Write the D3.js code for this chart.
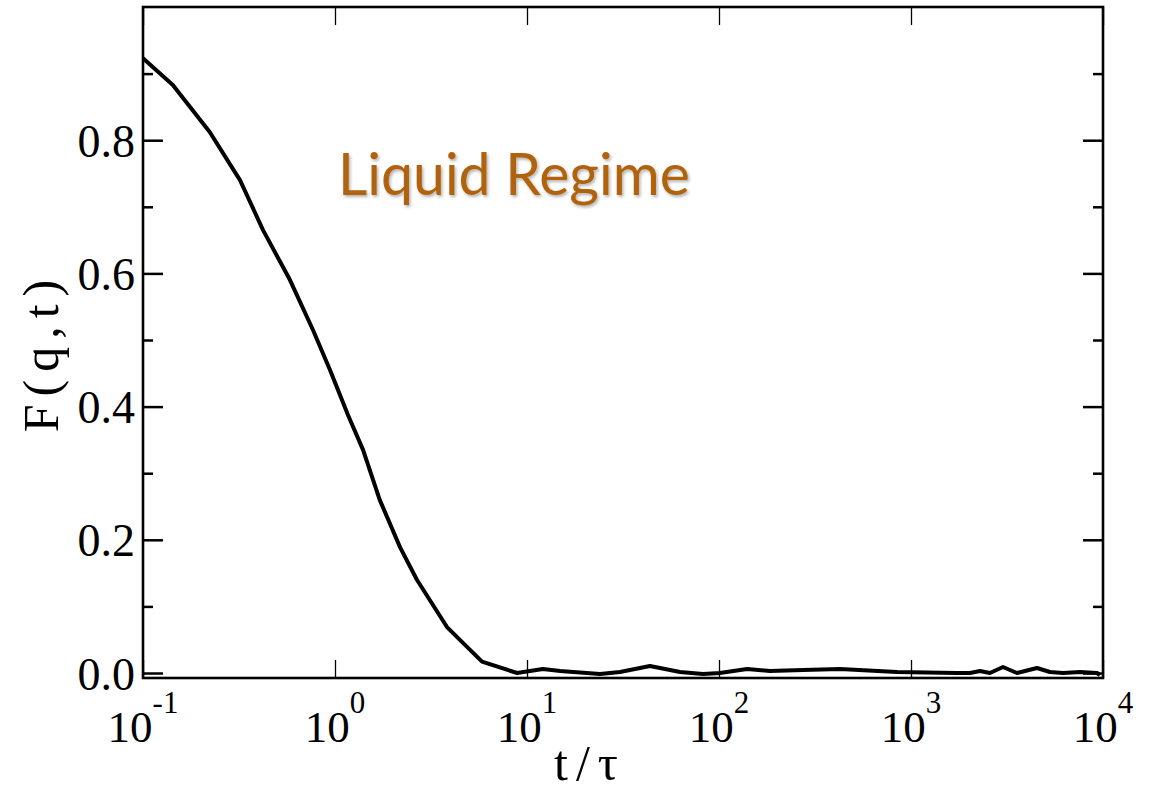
<!DOCTYPE html>
<html>
<head>
<meta charset="utf-8">
<script src="https://cdn.jsdelivr.net/npm/d3@7"></script>
<style>
  html, body { margin: 0; padding: 0; background: #fff; }
  svg { display: block; }
</style>
</head>
<body>
<svg id="chart" width="1155" height="793"></svg>
<script>
// Intermediate scattering function F(q,t) versus reduced time t/tau
const timeValues = [0.1, 0.143, 0.223, 0.320, 0.422, 0.583, 0.768, 0.942, 1.17, 1.40, 1.71, 2.18, 2.67, 3.83, 5.83, 8.88,
  12.1, 14.9, 24.0, 30.5, 43.7, 62.7, 82.6, 101, 140, 184, 274, 427, 845, 1738, 2028, 2286, 2577, 3013, 3564, 4529, 5296, 6194, 7592, 9311, 9640];
const fValues = [0.923, 0.883, 0.812, 0.740, 0.665, 0.590, 0.515, 0.455, 0.387, 0.335, 0.260, 0.189, 0.140, 0.069, 0.017, 0.000,
  0.006, 0.003, -0.0015, 0.0015, 0.0105, 0.0015, -0.0015, 0.000, 0.006, 0.003, 0.0045, 0.006, 0.0015, 0.000, 0.000, 0.003, 0.000, 0.009, 0.000, 0.0075, 0.0015, 0.000, 0.0015, 0.000, -0.003];

const xTickExponents = [-1, 0, 1, 2, 3, 4];
const yMajorTicks = [0.0, 0.2, 0.4, 0.6, 0.8];
const yMinorTicks = [0.1, 0.3, 0.5, 0.7, 0.9];
const yTickLabels = ["0.0", "0.2", "0.4", "0.6", "0.8"];
const xTitle = "t/\u03c4";
const yTitle = "F(q,t)";
const annotation = "Liquid Regime";

const svg = d3.select("#chart");
const plotL = 143, plotR = 1103, plotT = 7, plotB = 678;

const x = d3.scaleLog().domain([0.1, 1e4]).range([plotL, plotR]);
const y = d3.scaleLinear().domain([-0.0075, 1.0]).range([plotB, plotT]);

const serif = "'Liberation Serif', 'Times New Roman', serif";

// Tick marks on all four sides, pointing inward
const xTickVals = xTickExponents.map(e => Math.pow(10, e));
function tickStyle(g, w) {
  g.select(".domain").remove();
  g.selectAll(".tick line").attr("stroke", "#000").attr("stroke-width", w);
  g.selectAll(".tick text").remove();
}
svg.append("g").attr("transform", `translate(0,${plotB})`)
  .call(d3.axisBottom(x).tickValues(xTickVals).tickSize(-18).tickFormat(""))
  .call(g => tickStyle(g, 1.3));
svg.append("g").attr("transform", `translate(0,${plotT})`)
  .call(d3.axisTop(x).tickValues(xTickVals).tickSize(-18).tickFormat(""))
  .call(g => tickStyle(g, 1.3));
svg.append("g").attr("transform", `translate(${plotL},0)`)
  .call(d3.axisLeft(y).tickValues(yMajorTicks).tickSize(-20).tickFormat(""))
  .call(g => tickStyle(g, 2.5));
svg.append("g").attr("transform", `translate(${plotL},0)`)
  .call(d3.axisLeft(y).tickValues(yMinorTicks).tickSize(-10).tickFormat(""))
  .call(g => tickStyle(g, 2.5));
svg.append("g").attr("transform", `translate(${plotR},0)`)
  .call(d3.axisRight(y).tickValues(yMajorTicks).tickSize(-20).tickFormat(""))
  .call(g => tickStyle(g, 2.5));
svg.append("g").attr("transform", `translate(${plotR},0)`)
  .call(d3.axisRight(y).tickValues(yMinorTicks).tickSize(-10).tickFormat(""))
  .call(g => tickStyle(g, 2.5));

// Frame
svg.append("rect")
  .attr("x", plotL).attr("y", plotT)
  .attr("width", plotR - plotL).attr("height", plotB - plotT)
  .attr("fill", "none").attr("stroke", "#000").attr("stroke-width", 2.6);

// Y tick labels
svg.append("g").selectAll("text")
  .data(yMajorTicks)
  .join("text")
  .attr("x", 135)
  .attr("y", d => y(d))
  .attr("dy", "0.36em")
  .attr("text-anchor", "end")
  .attr("font-family", serif)
  .attr("font-size", 46)
  .attr("fill", "#000")
  .text((d, i) => yTickLabels[i]);

// X tick labels as powers of ten
const xl = svg.append("g").selectAll("text")
  .data(xTickExponents)
  .join("text")
  .attr("x", d => x(Math.pow(10, d)))
  .attr("y", 742)
  .attr("text-anchor", "middle")
  .attr("font-family", serif)
  .attr("fill", "#000");
xl.append("tspan").attr("font-size", 45).text("10");
xl.append("tspan").attr("font-size", 31).attr("dy", -29).text(d => String(d));

// Axis titles
svg.append("text")
  .attr("x", 590).attr("y", 780)
  .attr("text-anchor", "middle")
  .attr("font-family", serif)
  .attr("font-size", 50)
  .attr("letter-spacing", 8)
  .attr("fill", "#000")
  .text(xTitle);
svg.append("text")
  .attr("transform", "translate(58,352) rotate(-90)")
  .attr("text-anchor", "middle")
  .attr("font-family", serif)
  .attr("font-size", 50)
  .attr("letter-spacing", 8)
  .attr("fill", "#000")
  .text(yTitle);

// Data curve
const pts = timeValues.map((t, i) => [t, fValues[i]]);
svg.append("path")
  .datum(pts)
  .attr("fill", "none")
  .attr("stroke", "#000")
  .attr("stroke-width", 4)
  .attr("stroke-linejoin", "round")
  .attr("d", d3.line().x(d => x(d[0])).y(d => y(d[1])));

// Annotation with soft shadow
const defs = svg.append("defs");
const f = defs.append("filter").attr("id", "shadow").attr("x", "-10%").attr("y", "-20%").attr("width", "120%").attr("height", "150%");
f.append("feDropShadow").attr("dx", 1.5).attr("dy", 2).attr("stdDeviation", 1.5)
  .attr("flood-color", "#000").attr("flood-opacity", 0.3);
const ann = svg.append("text")
  .attr("x", 338).attr("y", 195)
  .attr("font-family", "Lato, 'Open Sans', sans-serif")
  .attr("font-size", 50)
  .attr("fill", "#b0620f")
  .attr("filter", "url(#shadow)")
  .text(annotation);
const w = ann.node().getComputedTextLength();
ann.attr("font-size", 50 * 352 / w);
</script>
</body>
</html>
